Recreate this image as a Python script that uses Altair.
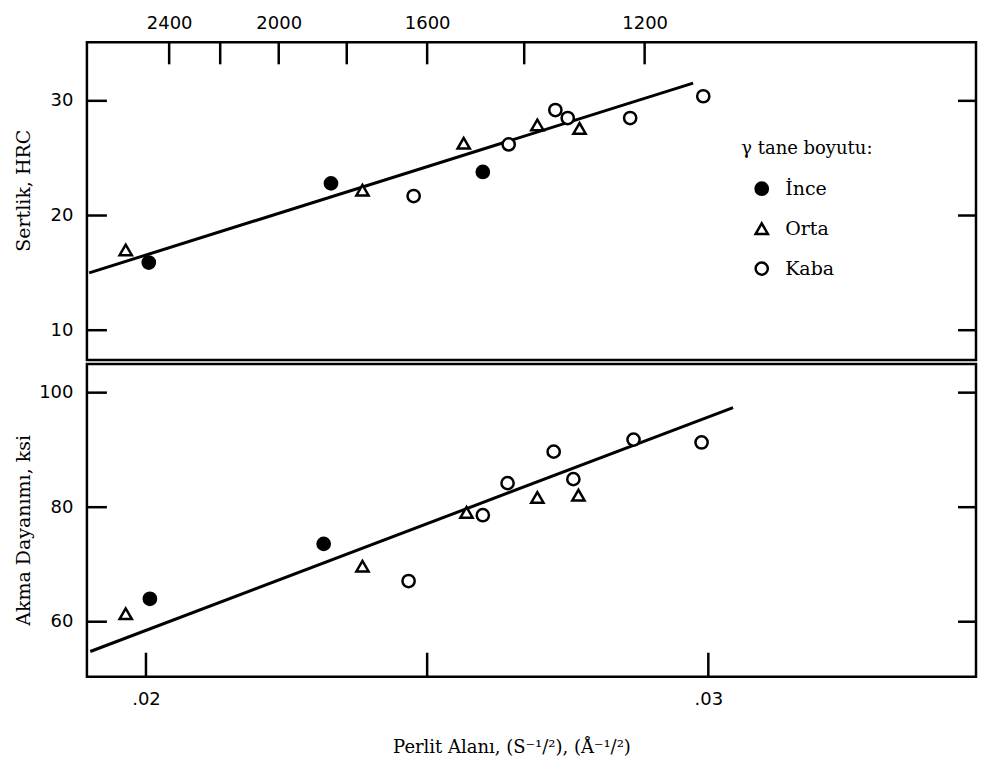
import altair as alt
import pandas as pd

groups = ["İnce", "Orta", "Kaba"]

# Top panel: hardness (HRC)
top_ince_x = [0.02005, 0.02329, 0.02599]
top_ince_y = [15.9, 22.8, 23.8]
top_orta_x = [0.01964, 0.02385, 0.02565, 0.02696, 0.02771]
top_orta_y = [17.0, 22.2, 26.3, 27.9, 27.6]
top_kaba_x = [0.02476, 0.02645, 0.02728, 0.02750, 0.02861, 0.02991]
top_kaba_y = [21.7, 26.2, 29.2, 28.5, 28.5, 30.4]
top_fit_x = [0.01899, 0.02973]
top_fit_y = [15.0, 31.55]

# Bottom panel: yield strength (ksi)
bot_ince_x = [0.02007, 0.02316]
bot_ince_y = [64.0, 73.6]
bot_orta_x = [0.01964, 0.02385, 0.02570, 0.02696, 0.02769]
bot_orta_y = [61.4, 69.7, 79.1, 81.7, 82.1]
bot_kaba_x = [0.02467, 0.02599, 0.02643, 0.02725, 0.02760, 0.02867, 0.02988]
bot_kaba_y = [67.1, 78.6, 84.2, 89.7, 84.9, 91.8, 91.3]
bot_fit_x = [0.01901, 0.03044]
bot_fit_y = [54.8, 97.4]

# Axis ticks
top_ticks_s = [2400, 2200, 2000, 1800, 1600, 1400, 1200]
top_labels_s = [2400, 2000, 1600, 1200]
bottom_ticks = [0.02, 0.025, 0.03]
bottom_labels = [0.02, 0.03]
hrc_ticks = [10, 20, 30]
ksi_ticks = [60, 80, 100]

W, HT, HB = 890, 318, 313
X_DOMAIN = [0.01895, 0.03476]
SERIF = "DejaVu Serif"
SANS = "DejaVu Sans"


def points_df(xs, ys):
    rows = []
    for g, gx, gy in zip(groups, xs, ys):
        for a, b in zip(gx, gy):
            rows.append({"x": a, "y": b, "g": g})
    return pd.DataFrame(rows)


df_top = points_df([top_ince_x, top_orta_x, top_kaba_x], [top_ince_y, top_orta_y, top_kaba_y])
df_bot = points_df([bot_ince_x, bot_orta_x, bot_kaba_x], [bot_ince_y, bot_orta_y, bot_kaba_y])
fit_top = pd.DataFrame({"x": top_fit_x, "y": top_fit_y})
fit_bot = pd.DataFrame({"x": bot_fit_x, "y": bot_fit_y})

xscale = alt.Scale(domain=X_DOMAIN, nice=False, zero=False)
shape_scale = alt.Scale(domain=groups, range=["circle", "triangle-up", "circle"])
fill_scale = alt.Scale(domain=groups, range=["black", "white", "white"])
stroke_scale = alt.Scale(domain=groups, range=["black", "black", "black"])

top_label_pos = [1 / (s ** 0.5) for s in top_labels_s]

x_top = alt.X(
    "x:Q", scale=xscale,
    axis=alt.Axis(orient="top", values=top_label_pos,
                  labelExpr="format(round(1/(datum.value*datum.value)), 'd')",
                  ticks=False, domain=False, grid=False, title=None,
                  labelPadding=10, labelOverlap=False),
)
y_top = alt.Y(
    "y:Q", scale=alt.Scale(domain=[7.4, 35.1], nice=False, zero=False),
    axis=alt.Axis(values=hrc_ticks, ticks=False, domain=False, grid=False,
                  title="Sertlik, HRC", titleX=-63, titleY=148,
                  titleBaseline="middle", titleAlign="center", titleAngle=270,
                  labelPadding=14),
)
x_bot = alt.X(
    "x:Q", scale=xscale,
    axis=alt.Axis(orient="bottom", values=bottom_labels,
                  labelExpr="replace(format(datum.value, '.2f'), '0.', '.')",
                  ticks=False, domain=False, grid=False,
                  title="Perlit Alanı, (S⁻¹/²), (Å⁻¹/²)",
                  titleX=425, titleY=71, titleBaseline="middle", titleAlign="center",
                  titleFontSize=18, labelPadding=14),
)
y_bot = alt.Y(
    "y:Q", scale=alt.Scale(domain=[50.4, 105.0], nice=False, zero=False),
    axis=alt.Axis(values=ksi_ticks, ticks=False, domain=False, grid=False,
                  title="Akma Dayanımı, ksi", titleX=-63, titleY=166,
                  titleBaseline="middle", titleAlign="center", titleAngle=270,
                  labelPadding=14),
)

legend = alt.Legend(
    title="γ tane boyutu:", orient="none", legendX=655, legendY=98,
    titleFont=SERIF, titleFontSize=18, titleFontWeight="normal", titleColor="black",
    titlePadding=21, labelFont=SERIF, labelFontSize=19, labelColor="black",
    symbolSize=150, symbolStrokeWidth=2.5, symbolStrokeColor="black",
    symbolOffset=11, labelOffset=14, rowPadding=18,
)

RULE = dict(color="black", strokeWidth=2.5)


def panel(df, fit, x_enc, y_enc, y_ticks, H, top, show_legend):
    line = alt.Chart(fit).mark_line(color="black", strokeWidth=3, clip=True).encode(x=x_enc, y=y_enc)
    ydf = pd.DataFrame({"y": y_ticks})
    left_ticks = alt.Chart(ydf).mark_rule(**RULE).encode(y=y_enc, x=alt.value(0), x2=alt.value(20))
    right_ticks = alt.Chart(ydf).mark_rule(**RULE).encode(y=y_enc, x=alt.value(W - 18), x2=alt.value(W))
    if top:
        xt = alt.Chart(pd.DataFrame({"s": top_ticks_s})).transform_calculate(
            x="1/sqrt(datum.s)").mark_rule(**RULE).encode(x=x_enc, y=alt.value(0), y2=alt.value(22))
    else:
        xt = alt.Chart(pd.DataFrame({"x": bottom_ticks})).mark_rule(**RULE).encode(
            x=x_enc, y=alt.value(H - 24), y2=alt.value(H))
    lg = legend if show_legend else None
    pts = alt.Chart(df).mark_point(size=150, strokeWidth=2.5, filled=True, opacity=1).encode(
        x=x_enc, y=y_enc,
        shape=alt.Shape("g:N", scale=shape_scale, legend=lg),
        fill=alt.Fill("g:N", scale=fill_scale, legend=lg),
        stroke=alt.Stroke("g:N", scale=stroke_scale, legend=lg),
    )
    return alt.layer(line, left_ticks, right_ticks, xt, pts).properties(width=W, height=H)


top_chart = panel(df_top, fit_top, x_top, y_top, hrc_ticks, HT, True, True)
bot_chart = panel(df_bot, fit_bot, x_bot, y_bot, ksi_ticks, HB, False, False)

chart = alt.vconcat(top_chart, bot_chart, spacing=0).resolve_scale(
    x="independent", y="independent"
).properties(
    padding={"left": 5, "top": 4, "right": 0, "bottom": 0},
    background="white",
).configure_view(
    stroke="black", strokeWidth=2.5
).configure_axis(
    labelFont=SANS, labelFontSize=18, labelColor="black",
    titleFont=SERIF, titleFontSize=19, titleFontWeight="normal", titleColor="black",
)

chart.save("out.html", embed_options={"renderer": "svg", "actions": False})
